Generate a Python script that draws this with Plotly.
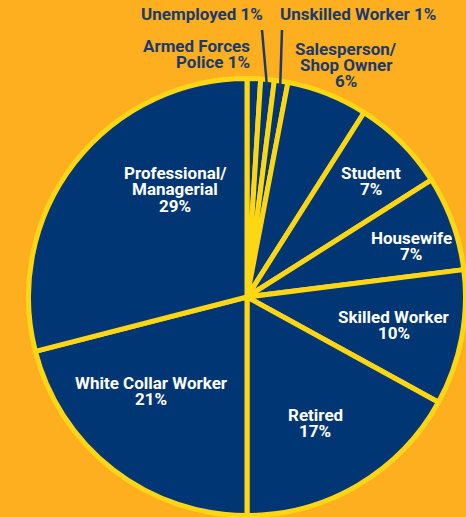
import math
import plotly.graph_objects as go

# ---- data ----
categories = ["Armed Forces/Police", "Unemployed", "Unskilled Worker",
              "Salesperson/Shop Owner", "Student", "Housewife",
              "Skilled Worker", "Retired", "White Collar Worker",
              "Professional/Managerial"]
values = [1, 1, 1, 6, 7, 7, 10, 17, 21, 29]
label_templates = ["Armed Forces<br>Police {v}%", "Unemployed {v}%",
                   "Unskilled Worker {v}%", "Salesperson/<br>Shop Owner<br>{v}%",
                   "Student<br>{v}%", "Housewife<br>{v}%", "Skilled Worker<br>{v}%",
                   "Retired<br>{v}%", "White Collar Worker<br>{v}%",
                   "Professional/<br>Managerial<br>{v}%"]

# ---- layout / style ----
W, H = 466, 517
CX, CY, R = 247, 297, 218.5
BG = "#FDAF20"
NAVY = "#003673"
YELLOW = "#FFD614"
TEXT_NAVY = "#1B3A6B"
FONT = "Roboto, Liberation Sans, sans-serif"
FS = 17
LINE_GAP = 16.3

# label anchor: (x px, first-line y px, xanchor, colour)
label_pos = [(252, 46, "right", TEXT_NAVY), (202, 14, "center", TEXT_NAVY),
             (358, 14, "center", TEXT_NAVY), (346, 48.5, "center", TEXT_NAVY),
             (371, 173, "center", "white"), (411, 238, "center", "white"),
             (394, 317, "center", "white"), (315, 415, "center", "white"),
             (151, 383, "center", "white"), (175, 173, "center", "white")]
leader_from = {1: (262, 30), 2: (282, 30)}

fig = go.Figure(go.Pie(
    labels=categories, values=values, sort=False, direction="clockwise",
    rotation=0, textinfo="none", hoverinfo="label+percent",
    marker=dict(colors=[NAVY] * len(values), line=dict(color=YELLOW, width=5)),
    domain=dict(x=[(CX - R) / W, (CX + R) / W],
                y=[(H - CY - R) / H, (H - CY + R) / H]),
    showlegend=False,
))

px = lambda x: x / W
py = lambda y: 1 - y / H

annotations = []
for i, (tpl, v) in enumerate(zip(label_templates, values)):
    x, y0, xa, col = label_pos[i]
    lines = tpl.format(v=v).split("<br>")
    for j, line in enumerate(lines):
        annotations.append(dict(
            x=px(x), y=py(y0 + j * LINE_GAP), xref="paper", yref="paper",
            text=line, showarrow=False, xanchor=xa, yanchor="middle",
            font=dict(family=FONT, size=FS, color=col, weight="bold")))

shapes = []
total = sum(values)
cum = 0
for i, v in enumerate(values):
    mid = (cum + v / 2) / total * 2 * math.pi
    cum += v
    if i in leader_from:
        tx = CX + 0.97 * R * math.sin(mid)
        ty = CY - 0.97 * R * math.cos(mid)
        fx, fy = leader_from[i]
        shapes.append(dict(type="line", xref="paper", yref="paper",
                           x0=px(fx), y0=py(fy), x1=px(tx), y1=py(ty),
                           line=dict(color=TEXT_NAVY, width=2.5)))

fig.update_layout(
    width=W, height=H, margin=dict(l=0, r=0, t=0, b=0),
    paper_bgcolor=BG, plot_bgcolor=BG,
    annotations=annotations, shapes=shapes,
)
fig.write_html("out.html", config={"displayModeBar": False},
               post_script="document.body.style.margin='0';"
                           "document.body.style.overflow='hidden';")
